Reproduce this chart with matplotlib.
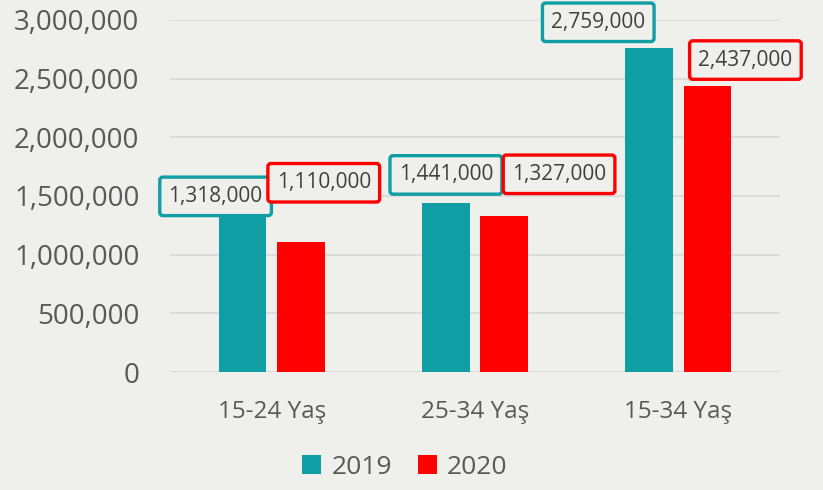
import numpy as np
import matplotlib
matplotlib.use('Agg')
import matplotlib.pyplot as plt
from matplotlib.ticker import FuncFormatter

categories = ['15-24 Yaş', '25-34 Yaş', '15-34 Yaş']
series_names = ['2019', '2020']
values_2019 = [1318000, 1441000, 2759000]
values_2020 = [1110000, 1327000, 2437000]

teal = '#0f9ea3'
red = '#ff0000'
text_color = '#595959'
bg = '#efefec'

plt.rcParams['font.family'] = ['Open Sans', 'DejaVu Sans']

fig = plt.figure(figsize=(8.23, 4.9), dpi=100, facecolor=bg)
ax = fig.add_axes([170 / 823, 1 - 372 / 490, 610 / 823, 352 / 490])
ax.set_facecolor(bg)

x = np.arange(len(categories))
width = 0.235
offset = 0.143
bars19 = ax.bar(x - offset, values_2019, width, color=teal, label=series_names[0], zorder=3)
bars20 = ax.bar(x + offset, values_2020, width, color=red, label=series_names[1], zorder=3)

ax.set_xlim(-0.5, 2.5)
ax.set_ylim(0, 3000000)
ax.set_yticks(np.arange(0, 3000001, 500000))
ax.yaxis.set_major_formatter(FuncFormatter(lambda v, p: f'{int(v):,}'))
ax.set_xticks(x)
ax.set_xticklabels(categories)
ax.grid(axis='y', color='#d9d9d9', linewidth=1.2, zorder=0)
ax.tick_params(axis='both', length=0, colors=text_color)
ax.tick_params(axis='y', labelsize=20, pad=22)
ax.tick_params(axis='x', labelsize=17.5, pad=20)
for s in ax.spines.values():
    s.set_visible(False)
ax.axhline(0, color='#d9d9d9', linewidth=1.5, zorder=2)

# label offsets in pixels (dx, dy) from bar top centre
label_offsets_19 = [(-27, 21), (0, 28), (-51, 26)]
label_offsets_20 = [(23, 59), (55, 42), (38, 26)]

def add_labels(bars, vals, offsets, edge):
    for b, v, (dx, dy) in zip(bars, vals, offsets):
        ax.annotate(f'{v:,}', (b.get_x() + b.get_width() / 2, v),
                    xytext=(dx, dy), textcoords='offset pixels',
                    ha='center', va='center', fontsize=15, color='#404040',
                    bbox=dict(boxstyle='round,pad=0.42,rounding_size=0.15',
                              fc=bg, ec=edge, lw=2.4),
                    zorder=5, annotation_clip=False)

add_labels(bars19, values_2019, label_offsets_19, teal)
add_labels(bars20, values_2020, label_offsets_20, red)

leg = fig.legend(handles=[bars19, bars20], labels=series_names, loc='center',
                 bbox_to_anchor=(405 / 823, 1 - 467 / 490), ncol=2, frameon=False,
                 fontsize=19, handlelength=0.7, handleheight=0.7, columnspacing=1.0,
                 handletextpad=0.4)
for t in leg.get_texts():
    t.set_color(text_color)

fig.savefig('out.png', dpi=100, facecolor=bg)
